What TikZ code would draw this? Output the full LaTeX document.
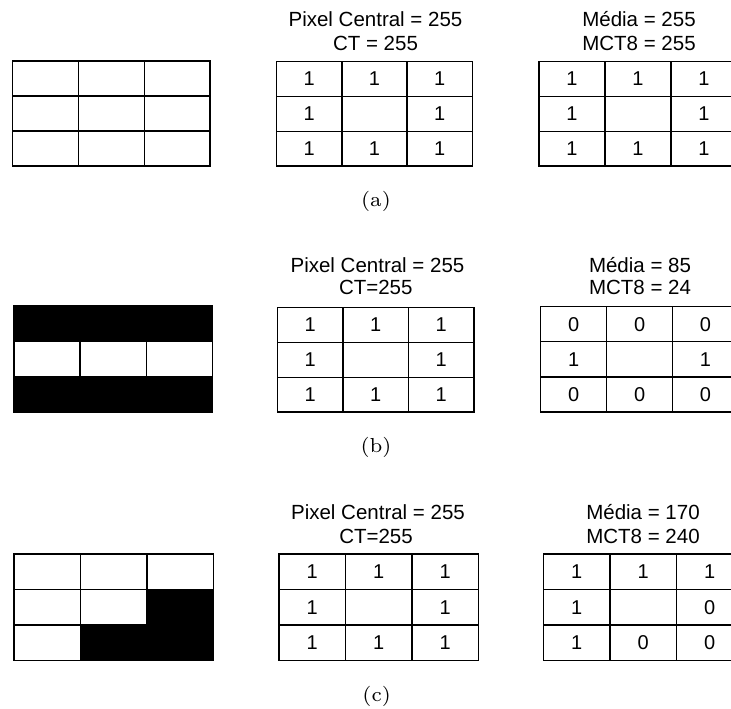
\documentclass[tikz,border=0pt]{standalone}
\usepackage{graphicx}
\usepackage{fontspec}
\newfontfamily\lsans{Liberation Sans}
\newcommand{\mygrid}[5]{% name, x0, y0, x1, y1
  \pgfmathsetmacro\gxa{#2+(#4-#2)/3}
  \pgfmathsetmacro\gxb{#2+2*(#4-#2)/3}
  \pgfmathsetmacro\gya{#3+(#5-#3)/3}
  \pgfmathsetmacro\gyb{#3+2*(#5-#3)/3}
  \draw[gridline] (#2,#3) rectangle (#4,#5);
  \draw[gridline] (\gxa,#3) -- (\gxa,#5) (\gxb,#3) -- (\gxb,#5)
                  (#2,\gya) -- (#4,\gya) (#2,\gyb) -- (#4,\gyb);
  \foreach \r in {1,2,3}{\foreach \c in {1,2,3}{
    \pgfmathsetmacro\cx{#2+(\c-0.5)*(#4-#2)/3}
    \pgfmathsetmacro\cy{#3+(\r-0.5)*(#5-#3)/3}
    \coordinate (#1-\r-\c) at (\cx,\cy);
  }}
}
\newcommand{\mycaptxt}[1]{\scalebox{2.9}{\normalfont\scriptsize #1}}
\begin{document}
\begin{tikzpicture}[x=1pt,y=-1pt,
  gridline/.style={line width=1.3pt, draw=black},
  lab/.style={font=\lsans\fontsize{20.5}{24}\selectfont, inner sep=0pt, anchor=base},
  num/.style={font=\lsans\fontsize{20}{24}\selectfont, inner sep=0pt},
  capt/.style={inner sep=0pt, anchor=base}]
\clip (0,0) rectangle (731,709);
\fill[white] (0,0) rectangle (731,709);

% ---------- (a)
\mygrid{la}{12.7}{61}{210}{166}
\mygrid{ma}{276.7}{61.5}{472.3}{166}
\mygrid{ra}{539}{61.5}{737}{166}
\node[lab] (ta1) at (375.5,26.7) {Pixel Central = 255};
\node[lab] (ta2) at (375.5,50.7) {CT = 255};
\node[lab] (ta3) at (639,26.7) {Média = 255};
\node[lab] (ta4) at (639,50.7) {MCT8 = 255};
\foreach \r/\c/\v in {1/1/1,1/2/1,1/3/1,2/1/1,2/3/1,3/1/1,3/2/1,3/3/1}
  \node[num] (ma-n\r\c) at (ma-\r-\c) {\v};
\foreach \r/\c/\v in {1/1/1,1/2/1,1/3/1,2/1/1,2/3/1,3/1/1,3/2/1,3/3/1}
  \node[num] (ra-n\r\c) at (ra-\r-\c) {\v};
\node[capt] (capa) at (376,206.6) {\mycaptxt{(a)}};

% ---------- (b)
\mygrid{lb}{14}{306}{212.3}{412.3}
\fill[black] (14,306) rectangle (212.3,341.7);
\fill[black] (14,376.9) rectangle (212.3,412.3);
\draw[gridline] (14,306) rectangle (212.3,412.3);
\mygrid{mb}{277.3}{307.5}{474}{412}
\mygrid{rb}{540.7}{306.7}{738.5}{412}
\node[lab] (tb1) at (377.5,272.3) {Pixel Central = 255};
\node[lab] (tb2) at (375.8,294.3) {CT=255};
\node[lab] (tb3) at (640,272.3) {Média = 85};
\node[lab] (tb4) at (640,294.3) {MCT8 = 24};
\foreach \r/\c/\v in {1/1/1,1/2/1,1/3/1,2/1/1,2/3/1,3/1/1,3/2/1,3/3/1}
  \node[num] (mb-n\r\c) at (mb-\r-\c) {\v};
\foreach \r/\c/\v in {1/1/0,1/2/0,1/3/0,2/1/1,2/3/1,3/1/0,3/2/0,3/3/0}
  \node[num] (rb-n\r\c) at (rb-\r-\c) {\v};
\node[capt] (capb) at (376,452.8) {\mycaptxt{(b)}};

% ---------- (c)
\mygrid{lc}{14}{554}{213.3}{660.7}
\fill[black] (146.1,589.6) rectangle (213.3,660.7);
\fill[black] (80.4,625.1) rectangle (213.3,660.7);
\draw[gridline] (14,554) rectangle (213.3,660.7);
\mygrid{mc}{279}{554}{478.3}{660.7}
\mygrid{rc}{543.3}{554}{743}{660.7}
\node[lab] (tc1) at (378,519.3) {Pixel Central = 255};
\node[lab] (tc2) at (376,543.3) {CT=255};
\node[lab] (tc3) at (643,519.3) {Média = 170};
\node[lab] (tc4) at (643,543.3) {MCT8 = 240};
\foreach \r/\c/\v in {1/1/1,1/2/1,1/3/1,2/1/1,2/3/1,3/1/1,3/2/1,3/3/1}
  \node[num] (mc-n\r\c) at (mc-\r-\c) {\v};
\foreach \r/\c/\v in {1/1/1,1/2/1,1/3/1,2/1/1,2/3/0,3/1/1,3/2/0,3/3/0}
  \node[num] (rc-n\r\c) at (rc-\r-\c) {\v};
\node[capt] (capc) at (376.7,701.7) {\mycaptxt{(c)}};
\end{tikzpicture}
\end{document}
